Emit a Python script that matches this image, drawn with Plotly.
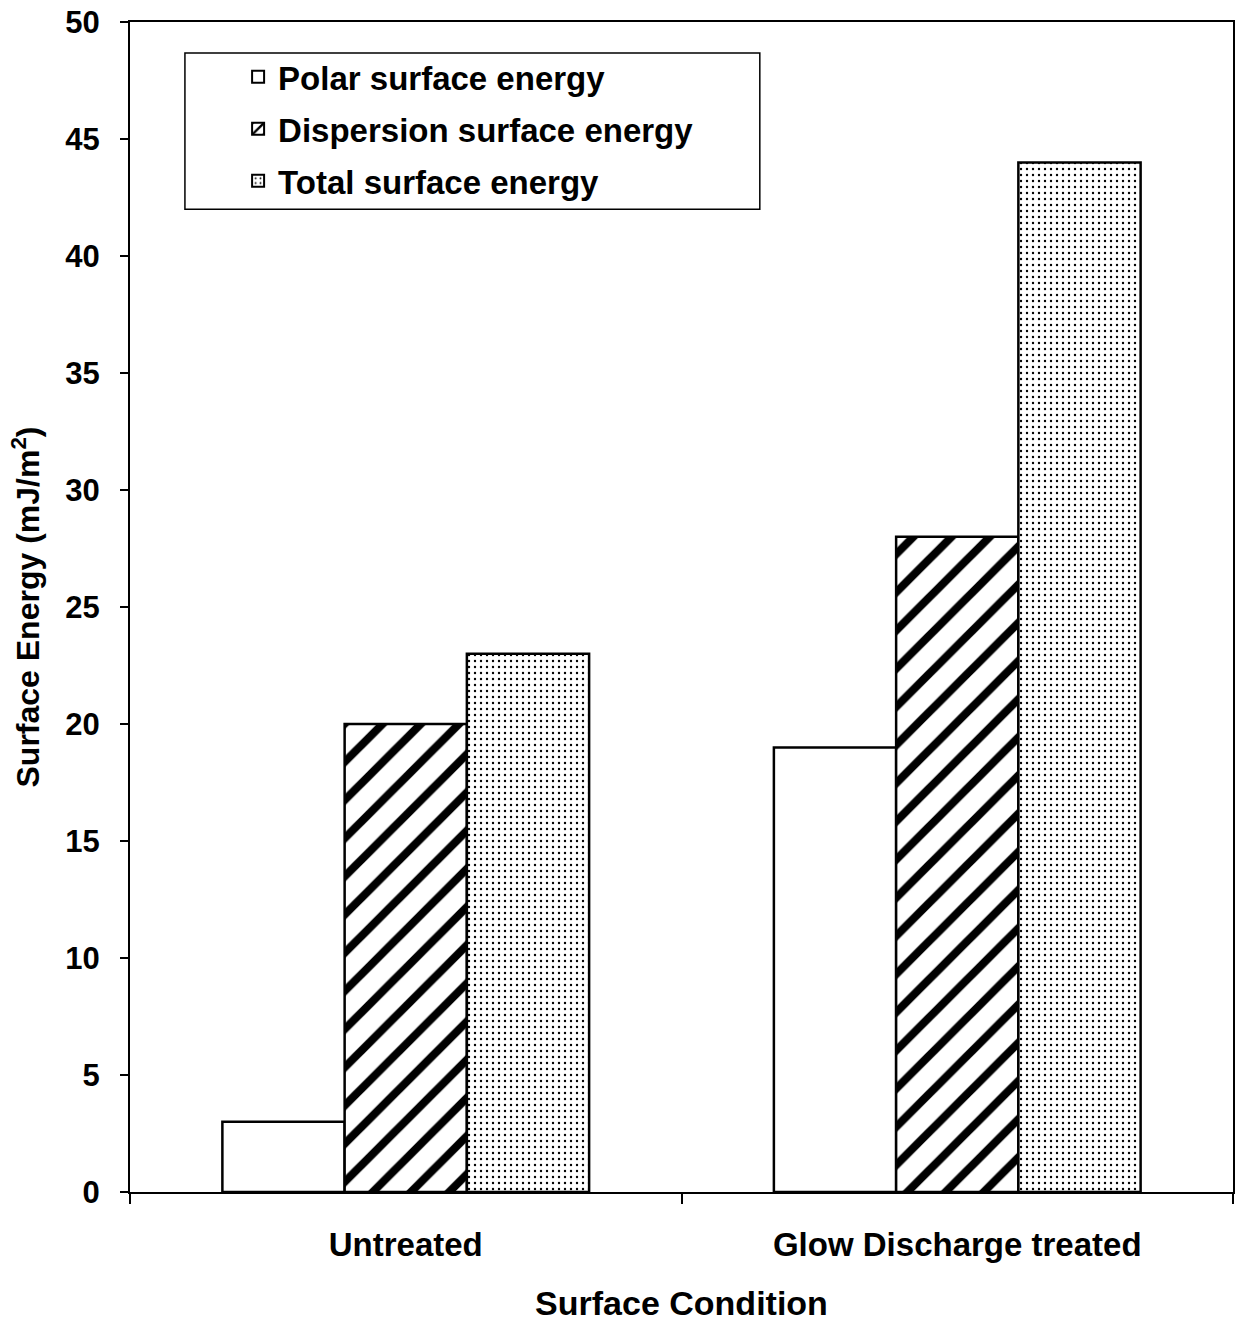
import plotly.graph_objects as go

# Surface energy components for each surface condition (mJ/m^2)
conditions = ["Untreated", "Glow Discharge treated"]
polar = [3, 19]
dispersion = [20, 28]
total = [23, 44]

series_names = ["Polar surface energy", "Dispersion surface energy", "Total surface energy"]
y_ticks = [0, 5, 10, 15, 20, 25, 30, 35, 40, 45, 50]

FONT = "Liberation Sans, Arial, sans-serif"

fig = go.Figure()

fig.add_trace(go.Bar(
    name=series_names[0], x=conditions, y=polar, legendgroup="a",
    marker=dict(color="white", line=dict(color="black", width=2.5)),
))
fig.add_trace(go.Bar(
    name=series_names[1], x=conditions, y=dispersion, legendgroup="b",
    marker=dict(color="white", line=dict(color="black", width=2.5),
                pattern=dict(shape="/", size=27, solidity=0.3, fgopacity=1,
                             fgcolor="black", bgcolor="white")),
))
fig.add_trace(go.Bar(
    name=series_names[2], x=conditions, y=total, legendgroup="c",
    marker=dict(color="white", line=dict(color="black", width=2.5),
                pattern=dict(shape=".", size=6, solidity=0.12, fgopacity=1,
                             fgcolor="black", bgcolor="white")),
))

# Framed legend area (wider than the entries, as in the original figure)
fig.add_shape(
    type="rect", xref="paper", yref="paper",
    x0=0.0498, x1=0.571, y0=0.840, y1=0.9735,
    line=dict(color="black", width=1.5), fillcolor="rgba(0,0,0,0)", layer="above",
)

fig.update_layout(
    width=1239, height=1325,
    margin=dict(l=130, r=4, t=22, b=133),
    paper_bgcolor="white", plot_bgcolor="white",
    barmode="group", bargap=0.335, bargroupgap=0,
    font=dict(family=FONT, color="black"),
    legend=dict(
        x=0.098, y=0.977, xanchor="left", yanchor="top",
        bgcolor="rgba(0,0,0,0)", borderwidth=0,
        font=dict(family=FONT, size=33, color="black", weight="bold"),
        itemsizing="constant", traceorder="grouped", tracegroupgap=6,
    ),
    showlegend=True,
)

fig.update_xaxes(
    showline=True, linecolor="black", linewidth=2, mirror=True,
    ticks="outside", tickson="boundaries", ticklen=10, tickwidth=2, tickcolor="black",
    tickfont=dict(family=FONT, size=33, weight="bold"),
    ticklabelstandoff=22,
    title=dict(text="<b>Surface Condition</b>", font=dict(family=FONT, size=34), standoff=30),
    showgrid=False,
)
fig.update_yaxes(
    range=[0, 50], tickvals=y_ticks,
    showline=True, linecolor="black", linewidth=2, mirror=True,
    ticks="outside", ticklen=8, tickwidth=2, tickcolor="black",
    tickfont=dict(family=FONT, size=31, weight="bold"),
    ticklabelstandoff=14,
    title=dict(text="<b>Surface Energy (mJ/m<sup>2</sup>)</b>", font=dict(family=FONT, size=32), standoff=16),
    showgrid=False, zeroline=False,
)

fig.write_html("out.html")
